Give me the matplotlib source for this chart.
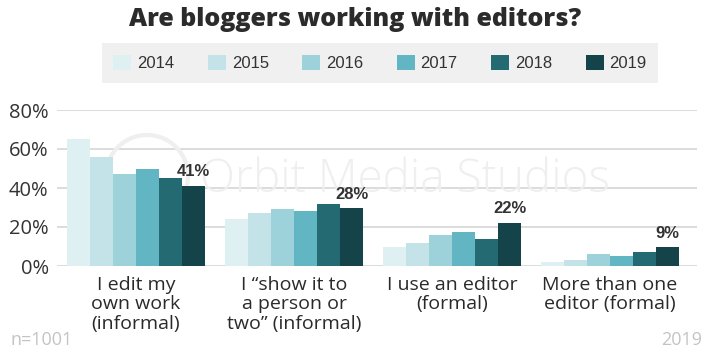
import matplotlib
matplotlib.use("Agg")
import matplotlib.pyplot as plt
import numpy as np
from matplotlib.patches import Ellipse

categories = ["I edit my\nown work\n(informal)",
              "I \u201cshow it to\na person or\ntwo\u201d (informal)",
              "I use an editor\n(formal)",
              "More than one\neditor (formal)"]
years = ["2014", "2015", "2016", "2017", "2018", "2019"]
values = {
    "2014": [65, 24, 10, 2],
    "2015": [56, 27, 12, 3],
    "2016": [47, 29, 16, 6],
    "2017": [50, 28, 17.5, 5],
    "2018": [45, 32, 14, 7],
    "2019": [41, 29.5, 22, 9.5],
}
labels_2019 = ["41%", "28%", "22%", "9%"]
yticks = [0, 20, 40, 60, 80]
colors = ["#dff0f3", "#c3e3e8", "#9dd2da", "#62b6c3", "#236a72", "#15434a"]

W, H = 710, 355
fig = plt.figure(figsize=(W / 100, H / 100), dpi=100)
ax = fig.add_axes([57 / W, 1 - 266 / H, 640 / W, 156 / H])

x = np.arange(len(categories))
bw = 0.1456
handles = []
for i, y in enumerate(years):
    b = ax.bar(x + (i - 2.5) * bw, values[y], width=bw, color=colors[i],
               label=y, zorder=3, linewidth=0)
    handles.append(b)

last = handles[-1]
for rect, lab in zip(last.patches, labels_2019):
    ax.annotate(lab, (rect.get_x() + rect.get_width() / 2, rect.get_height()),
                xytext=(0, 5), textcoords="offset points", ha="center", va="bottom",
                fontsize=12, fontweight="bold", color="#333333",
                family="Liberation Sans", zorder=5)

ax.set_ylim(0, 80)
ax.set_xlim(-0.5, 3.55)
ax.set_yticks(yticks)
ax.set_yticklabels([f"{v}%" for v in yticks], fontsize=14.5, color="#333333",
                   family="Open Sans")
ax.set_xticks(x)
ax.set_xticklabels(categories, fontsize=14, color="#2a2a2a", family="Open Sans",
                   linespacing=1.12)
ax.tick_params(axis="both", length=0)
ax.tick_params(axis="y", pad=6)
ax.tick_params(axis="x", pad=7)
ax.grid(axis="y", color="#dcdcdc", linewidth=1.4, zorder=0)
ax.set_axisbelow(True)
for s in ax.spines.values():
    s.set_visible(False)

# watermark (behind bars)
ax.text(405 / W, 1 - 192 / H, "Orbit Media Studios", ha="center", va="baseline",
        fontsize=33, color="#efefef", family="Open Sans", fontweight="light",
        transform=fig.transFigure, zorder=1)
circ = Ellipse((147 / W, 1 - 176 / H), 82 / W, 82 / H, transform=fig.transFigure,
               fill=False, edgecolor="#efefef", linewidth=3, zorder=1, clip_on=False)
ax.add_patch(circ)

# title
fig.text(355 / W, 1 - 20 / H, "Are bloggers working with editors?", ha="center",
         va="center", fontsize=18, fontweight="heavy", color="#2b2b2b",
         family="Open Sans")

leg = fig.legend(handles=handles, labels=years, loc="center",
                 bbox_to_anchor=(380 / W, 1 - 63 / H), ncol=6, frameon=True,
                 fancybox=False, facecolor="#f0f0f0", edgecolor="none",
                 framealpha=1, prop={"family": "Liberation Sans", "size": 12},
                 handlelength=1.08, handleheight=1.08, handletextpad=0.36,
                 columnspacing=2.0, borderpad=0.7, borderaxespad=0)
for t in leg.get_texts():
    t.set_color("#333333")

fig.text(10 / W, 1 - 340 / H, "n=1001", ha="left", va="center", fontsize=13,
         color="#c4c4c4", family="Open Sans")
fig.text(702 / W, 1 - 340 / H, "2019", ha="right", va="center", fontsize=13,
         color="#c4c4c4", family="Open Sans")

fig.savefig("out.png", dpi=100, facecolor="white")
